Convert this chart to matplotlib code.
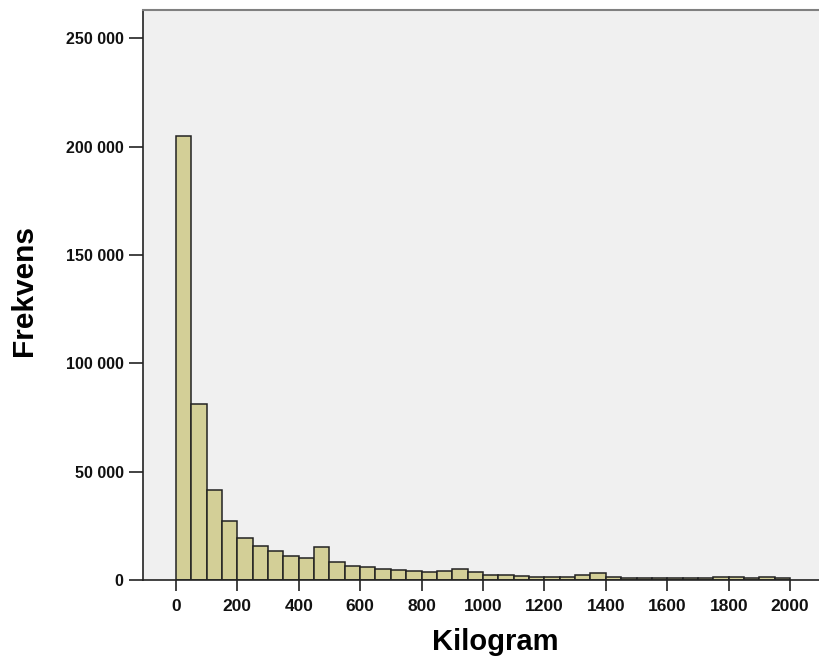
import matplotlib
matplotlib.use("Agg")
import matplotlib.pyplot as plt
from matplotlib.ticker import FuncFormatter
import numpy as np

# bin edges of 50 kg from 0 to 2000
bin_edges = list(range(0, 2001, 50))
counts = [205000, 81400, 41500, 27400, 19500, 15700, 13500, 11200, 10000, 15100,
          8300, 6300, 6000, 5100, 4600, 4150, 3700, 4000, 5200, 3800,
          2500, 2100, 1800, 1500, 1600, 1500, 2500, 3000, 1200, 1100,
          800, 700, 700, 800, 1000, 1200, 1600, 800, 1200, 700]

x_ticks = list(range(0, 2001, 200))
y_ticks = [0, 50000, 100000, 150000, 200000, 250000]

plt.rcParams['font.family'] = ['Liberation Sans', 'DejaVu Sans']

fig = plt.figure(figsize=(8.19, 6.60), dpi=100)
ax = fig.add_axes([143 / 819, 80 / 660, 676 / 819, 570 / 660])
ax.set_facecolor('#f0f0f0')

lefts = np.array(bin_edges[:-1])
widths = np.diff(bin_edges)
ax.bar(lefts, counts, width=widths, align='edge', color='#d3cf97',
       edgecolor='#222222', linewidth=1.1)

ax.set_xlim(-107, 2094)
ax.set_ylim(0, 263000)
ax.set_xticks(x_ticks)
ax.set_yticks(y_ticks)
ax.yaxis.set_major_formatter(FuncFormatter(lambda v, p: f"{int(v):,}".replace(",", " ")))

ax.tick_params(axis='both', direction='out', width=1.2, color='#222222')
ax.tick_params(axis='y', length=10, pad=4)
ax.tick_params(axis='x', length=8, pad=6)
for lab in ax.get_xticklabels():
    lab.set_fontweight('bold')
    lab.set_fontsize(12.5)
    lab.set_color('#111111')
for lab in ax.get_yticklabels():
    lab.set_fontweight('bold')
    lab.set_fontsize(11.5)
    lab.set_color('#111111')

ax.spines['right'].set_visible(False)
ax.spines['top'].set_color('#808080')
ax.spines['top'].set_linewidth(1.5)
ax.spines['left'].set_color('#222222')
ax.spines['bottom'].set_color('#222222')
ax.spines['left'].set_linewidth(1.2)
ax.spines['bottom'].set_linewidth(1.2)

ax.set_xlabel('Kilogram', fontsize=21, fontweight='bold')
ax.set_ylabel('Frekvens', fontsize=21.5, fontweight='bold')
ax.xaxis.set_label_coords((495 - 143) / 676, -(628 - 580) / 570)
ax.yaxis.set_label_coords(-(143 - 38) / 676, (580 - 290) / 570)

fig.savefig('out.png', dpi=100)
